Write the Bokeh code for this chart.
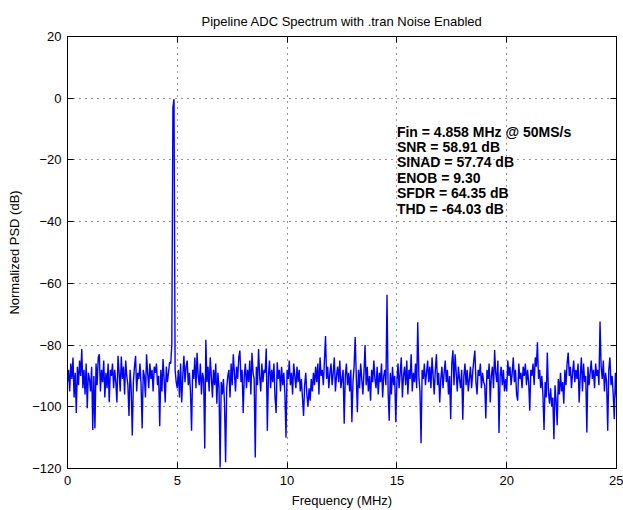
import numpy as np
from bokeh.plotting import figure
from bokeh.models import Range1d, LinearAxis, FixedTicker
from bokeh.embed import file_html
from bokeh.resources import INLINE
from bokeh.core.properties import value

# ---- data ----
freq_step_mhz = 0.05
psd_db = [
    # 0 MHz
    -92, -88, -95, -86, -91, -84, -97, -89, -102, -87, -93, -85, -90, -81.3, -94, -88, -96, -86, -100.5, -89,
    # 1 MHz
    -91, -95, -87, -107.5, -90, -107, -86, -93, -84, -83, -95, -88, -92, -85, -97, -89, -94, -86, -98.5, -88,
    # 2 MHz
    -90, -86, -94, -88, -92, -98.6, -83.5, -89, -95, -83.7, -91, -87, -96, -85, -90, -93, -103, -88, -94, -109.3,
    # 3 MHz
    -92, -87, -83.5, -95, -89, -91, -86, -93, -107, -88, -90, -97, -83, -89, -94, -86, -91, -88, -95, -87,
    # 4 MHz
    -89, -86, -93, -90, -106.3, -88, -95, -84.5, -91, -98.6, -87, -92, -89, -85.5, -86, -80, -3, -0.3, -88, -92,
    # 5 MHz
    -94, -88, -97, -86, -98.6, -90, -83.5, -92, -87, -85, -93, -89, -95, -107.8, -88, -91, -84, -94, -82.5, -90,
    # 6 MHz
    -93, -86, -96, -89, -91, -113.5, -78.3, -92, -87, -95, -84, -90, -97, -88, -93, -86, -99, -89, -94, -119.7,
    # 7 MHz
    -92, -96, -91, -99, -118, -94, -90, -88, -97, -86, -93, -83, -89, -95, -87, -91, -84, -81.8, -92, -88,
    # 8 MHz
    -102, -90, -86, -94, -88, -92, -85, -96, -82.5, -89, -91, -116.4, -87, -93, -81.3, -90, -95, -86, -92, -88,
    # 9 MHz
    -89, -81.1, -107.8, -90, -85, -94, -88, -92, -86, -97, -102, -85.6, -91, -88, -95, -87, -93, -89, -96, -110,
    # 10 MHz
    -88, -91, -85, -93, -89, -96, -86, -90, -94, -87, -92, -88, -95, -91, -97, -103, -93, -89, -96, -100,
    # 11 MHz
    -94, -98, -91, -95, -89, -93, -87, -92, -86, -96, -84, -90, -88, -93, -85, -77.1, -91, -87, -94, -89,
    # 12 MHz
    -86, -93, -89, -84, -95, -90, -87, -92, -85, -94, -91, -88, -105.5, -90, -86, -93, -89, -95, -88, -105,
    # 13 MHz
    -92, -87, -77.4, -90, -101.8, -88, -94, -86, -91, -96, -89, -80, -93, -87, -95, -90, -98, -88, -92, -85,
    # 14 MHz
    -91, -94, -87, -96, -89, -92, -86, -97, -90, -88, -93, -63.7, -95, -104.5, -89, -96, -87, -93, -90, -105,
    # 15 MHz
    -92, -86, -94, -89, -84, -97, -90, -87, -93, -85, -96, -88, -91, -83, -95, -89, -92, -86, -94, -72.6,
    # 16 MHz
    -90, -95, -111.8, -88, -91, -86, -93, -89, -85, -92, -87, -94, -84, -90, -96, -88, -83, -93, -89, -98.6,
    # 17 MHz
    -91, -87, -94, -89, -85, -92, -88, -96, -90, -104, -86, -81.7, -93, -83, -89, -95, -87, -91, -94, -88,
    # 18 MHz
    -104.2, -90, -86, -93, -88, -95, -91, -87, -94, -89, -85, -81.8, -92, -96, -88, -90, -86, -94, -89, -92,
    # 19 MHz
    -93, -103.8, -88, -91, -86, -98.6, -90, -87, -94, -81.6, -89, -92, -85, -108.5, -90, -87, -93, -88, -95, -91,
    # 20 MHz
    -95, -85, -90, -87, -93, -89, -84, -92, -88, -96, -98, -86, -91, -89, -94, -87, -90, -86, -93, -88,
    # 21 MHz
    -92, -101.3, -88, -90, -86, -93, -84, -87, -79.1, -91, -88, -94, -90, -96, -107.5, -92, -97, -82.4, -95, -99,
    # 22 MHz
    -94, -100, -97, -110.5, -93, -98, -106, -91, -96, -89, -95, -92, -99, -88, -93, -86, -82.4, -90, -87, -94,
    # 23 MHz
    -89, -85, -92, -88, -91, -86, -98.6, -90, -84, -95, -86, -92, -90, -108.3, -87, -93, -89, -85, -91, -88,
    # 24 MHz
    -94, -86, -90, -88, -93, -72.4, -87, -91, -85, -95, -89, -92, -107.8, -88, -84, -93, -90, -96, -104, -89,
    # 25 MHz
    -97,
]
freq_mhz = [i * freq_step_mhz for i in range(len(psd_db))]

x_ticks = [0, 5, 10, 15, 20, 25]
y_ticks = [-120, -100, -80, -60, -40, -20, 0, 20]

metric_lines = [
    "Fin = 4.858 MHz @ 50MS/s",
    "SNR = 58.91 dB",
    "SINAD = 57.74 dB",
    "ENOB = 9.30",
    "SFDR = 64.35 dB",
    "THD = -64.03 dB",
]
metric_x = 15.0
metric_y_top = -10.8
metric_y_step = 5.0

FONT = "Liberation Sans"

p = figure(
    width=623, height=510,
    x_range=Range1d(0, 25), y_range=Range1d(-120, 20),
    output_backend="svg", toolbar_location=None,
    min_border_left=67, min_border_right=7, min_border_top=36, min_border_bottom=42,
    title="Pipeline ADC Spectrum with .tran Noise Enabled",
)
p.title.align = "center"
p.title.text_font = FONT
p.title.text_font_size = "13px"
p.title.text_font_style = "normal"
p.title.text_color = "black"
p.title.standoff = 16

p.background_fill_color = "white"
p.border_fill_color = "white"
p.outline_line_color = "black"
p.outline_line_width = 1

p.line(freq_mhz, psd_db, line_color="#0000ff", line_width=1.4)

ys = [metric_y_top - i * metric_y_step for i in range(len(metric_lines))]
p.text(x=[metric_x] * len(metric_lines), y=ys, text=metric_lines,
       text_font=value(FONT), text_font_style="bold", text_font_size="14px",
       text_baseline="middle", text_align="left", text_color="black")

for ax in p.xaxis:
    ax.ticker = FixedTicker(ticks=x_ticks)
for ax in p.yaxis:
    ax.ticker = FixedTicker(ticks=y_ticks)

p.xaxis.axis_label = "Frequency (MHz)"
p.yaxis.axis_label = "Normalized PSD (dB)"
for ax in list(p.xaxis) + list(p.yaxis):
    ax.axis_label_text_font = FONT
    ax.axis_label_text_font_size = "13px"
    ax.axis_label_text_font_style = "normal"
    ax.axis_label_text_color = "black"
    ax.major_label_text_font = FONT
    ax.major_label_text_font_size = "13px"
    ax.major_label_text_color = "black"
    ax.major_tick_in = 6
    ax.major_tick_out = 0
    ax.minor_tick_line_color = None
    ax.axis_line_color = "black"
    ax.major_tick_line_color = "black"
p.xaxis.major_label_standoff = 7
p.yaxis.major_label_standoff = 6
p.xaxis.axis_label_standoff = 5
p.yaxis.axis_label_standoff = 7

# box-style ticks on top and right
top_ax = LinearAxis(ticker=FixedTicker(ticks=x_ticks), major_label_text_font_size="0px",
                    major_label_standoff=0, major_tick_in=6, major_tick_out=0,
                    minor_tick_line_color=None, axis_line_color="black")
right_ax = LinearAxis(ticker=FixedTicker(ticks=y_ticks), major_label_text_font_size="0px",
                      major_label_standoff=0, major_tick_in=6, major_tick_out=0,
                      minor_tick_line_color=None, axis_line_color="black")
p.add_layout(top_ax, "above")
p.add_layout(right_ax, "right")

p.xgrid.ticker = FixedTicker(ticks=x_ticks)
p.ygrid.ticker = FixedTicker(ticks=y_ticks)
for g in (p.xgrid, p.ygrid):
    g.grid_line_color = "black"
    g.grid_line_dash = "1 5"
    g.grid_line_width = 1
    g.grid_line_alpha = 0.8

open("out.html", "w").write(file_html(p, INLINE))
